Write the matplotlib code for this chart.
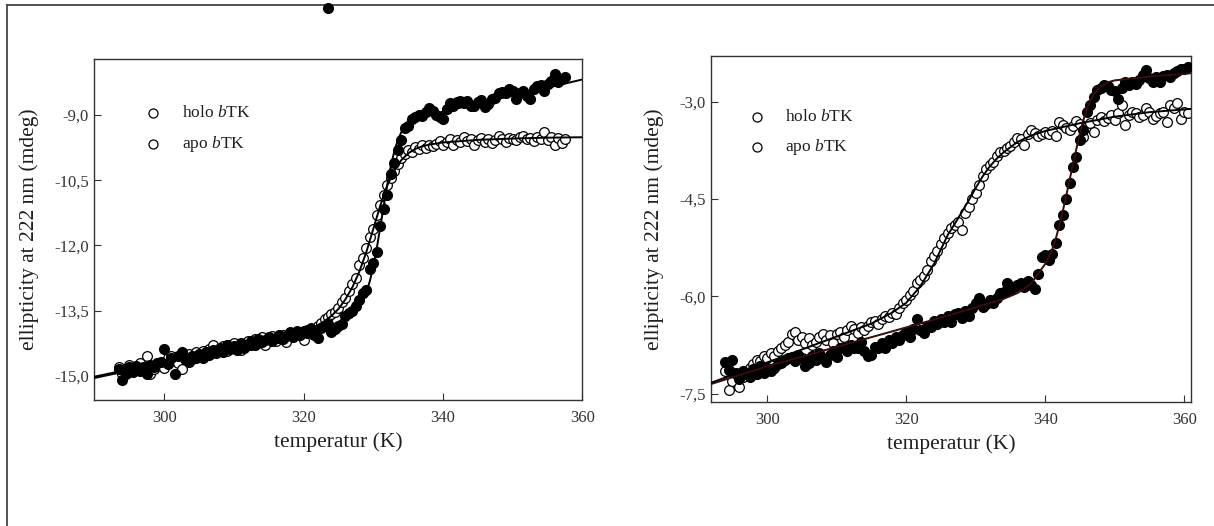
import matplotlib
matplotlib.use('Agg')
import matplotlib.pyplot as plt
from matplotlib.lines import Line2D
from matplotlib.ticker import FixedLocator, FuncFormatter

plt.rcParams['font.family'] = ['Liberation Serif', 'DejaVu Serif']
plt.rcParams['mathtext.fontset'] = 'custom'
plt.rcParams['mathtext.rm'] = 'Liberation Serif'
plt.rcParams['mathtext.it'] = 'Liberation Serif:italic'

# ---------------- data: left panel ----------------
temp_left = [293.5, 294.0, 294.5, 295.0, 295.5, 296.0, 296.5, 297.0, 297.5, 298.0,
             298.5, 299.0, 299.5, 300.0, 300.5, 301.0, 301.5, 302.0, 302.5, 303.0,
             303.5, 304.0, 304.5, 305.0, 305.5, 306.0, 306.5, 307.0, 307.5, 308.0,
             308.5, 309.0, 309.5, 310.0, 310.5, 311.0, 311.5, 312.0, 312.5, 313.0,
             313.5, 314.0, 314.5, 315.0, 315.5, 316.0, 316.5, 317.0, 317.5, 318.0,
             318.5, 319.0, 319.5, 320.0, 320.5, 321.0, 321.5, 322.0, 322.5, 323.0,
             323.5, 324.0, 324.5, 325.0, 325.5, 326.0, 326.5, 327.0, 327.5, 328.0,
             328.5, 329.0, 329.5, 330.0, 330.5, 331.0, 331.5, 332.0, 332.5, 333.0,
             333.5, 334.0, 334.5, 335.0, 335.5, 336.0, 336.5, 337.0, 337.5, 338.0,
             338.5, 339.0, 339.5, 340.0, 340.5, 341.0, 341.5, 342.0, 342.5, 343.0,
             343.5, 344.0, 344.5, 345.0, 345.5, 346.0, 346.5, 347.0, 347.5, 348.0,
             348.5, 349.0, 349.5, 350.0, 350.5, 351.0, 351.5, 352.0, 352.5, 353.0,
             353.5, 354.0, 354.5, 355.0, 355.5, 356.0, 356.5, 357.0, 357.5]

holo_left = [-14.85, -15.10, -14.95, -14.80, -14.92, -14.78, -14.88, -14.82, -14.95, -14.75,
             -14.80, -14.70, -14.68, -14.38, -14.72, -14.60, -14.95, -14.55, -14.45, -14.62,
             -14.68, -14.55, -14.60, -14.50, -14.58, -14.45, -14.52, -14.40, -14.48, -14.35,
             -14.45, -14.28, -14.38, -14.32, -14.40, -14.25, -14.35, -14.30, -14.20, -14.28,
             -14.15, -14.22, -14.18, -14.10, -14.20, -14.12, -14.05, -14.15, -14.08, -14.02,
             -14.10, -14.00, -14.05, -13.98, -14.02, -13.92, -14.05, -14.12, -13.90, -13.85,
             -13.80, -14.00, -13.92, -13.85, -13.80, -13.62, -13.55, -13.50, -13.40, -13.25,
             -13.10, -13.02, -12.55, -12.40, -12.15, -11.55, -11.15, -10.85, -10.35, -10.10,
             -9.80, -9.58, -9.30, -9.25, -9.10, -9.05, -9.00, -9.02, -8.92, -8.84,
             -8.90, -9.00, -9.05, -9.08, -8.85, -8.73, -8.78, -8.70, -8.68, -8.72,
             -8.67, -8.80, -8.78, -8.70, -8.66, -8.82, -8.75, -8.62, -8.60, -8.50,
             -8.46, -8.50, -8.40, -8.45, -8.62, -8.50, -8.44, -8.55, -8.63, -8.40,
             -8.33, -8.30, -8.45, -8.28, -8.22, -8.05, -8.25, -8.18, -8.12]

apo_left = [-14.80, -14.95, -14.88, -14.75, -14.90, -14.85, -14.70, -14.80, -14.55, -14.96,
            -14.85, -14.78, -14.72, -14.82, -14.60, -14.55, -14.66, -14.70, -14.85, -14.58,
            -14.50, -14.62, -14.45, -14.55, -14.42, -14.50, -14.38, -14.30, -14.45, -14.40,
            -14.32, -14.42, -14.30, -14.25, -14.35, -14.40, -14.28, -14.20, -14.30, -14.15,
            -14.25, -14.10, -14.30, -14.15, -14.08, -14.20, -14.12, -14.05, -14.22, -14.00,
            -14.08, -13.98, -14.05, -14.18, -13.95, -13.90, -13.98, -13.85, -13.78, -13.70,
            -13.64, -13.58, -13.52, -13.45, -13.30, -13.22, -13.05, -12.88, -12.75, -12.45,
            -12.30, -12.05, -11.80, -11.62, -11.30, -11.08, -10.85, -10.62, -10.45, -10.28,
            -10.12, -9.99, -9.90, -9.80, -9.85, -9.73, -9.78, -9.70, -9.75, -9.68,
            -9.72, -9.66, -9.60, -9.70, -9.62, -9.55, -9.68, -9.58, -9.62, -9.50,
            -9.60, -9.55, -9.68, -9.58, -9.52, -9.62, -9.55, -9.65, -9.58, -9.48,
            -9.55, -9.62, -9.52, -9.55, -9.58, -9.50, -9.47, -9.55, -9.52, -9.60,
            -9.50, -9.55, -9.40, -9.58, -9.50, -9.68, -9.52, -9.65, -9.55]

fit_holo_left_t = [290, 295, 300, 305, 310, 315, 320, 323, 325, 326, 327, 328,
                   328.5, 329, 329.5, 330, 330.5, 331, 331.5, 332, 332.5, 333, 333.5,
                   334, 334.5, 335, 336, 337, 340, 345, 350, 355, 360]
fit_holo_left_y = [-15.02, -14.85, -14.69, -14.52, -14.36, -14.19, -14.02, -13.92, -13.82,
                   -13.74, -13.62, -13.42, -13.28, -13.08, -12.82, -12.48, -12.06, -11.58,
                   -11.08, -10.60, -10.18, -9.84, -9.58, -9.40, -9.28, -9.19, -9.10, -9.04,
                   -8.92, -8.74, -8.55, -8.37, -8.18]

fit_apo_left_t = [290, 295, 300, 305, 310, 315, 318, 320, 322, 323, 324, 325, 326, 327,
                  328, 329, 330, 331, 332, 333, 334, 335, 336, 337, 338, 340, 345, 350,
                  355, 360]
fit_apo_left_y = [-15.05, -14.88, -14.70, -14.53, -14.35, -14.17, -14.05, -13.96, -13.84,
                  -13.74, -13.62, -13.46, -13.24, -12.96, -12.60, -12.15, -11.62, -11.08,
                  -10.62, -10.28, -10.04, -9.88, -9.78, -9.72, -9.68, -9.63, -9.57, -9.54,
                  -9.52, -9.51]

# ---------------- data: right panel ----------------
temp_right = [294.0, 294.5, 295.0, 295.5, 296.0, 296.5, 297.0, 297.5, 298.0, 298.5,
              299.0, 299.5, 300.0, 300.5, 301.0, 301.5, 302.0, 302.5, 303.0, 303.5,
              304.0, 304.5, 305.0, 305.5, 306.0, 306.5, 307.0, 307.5, 308.0, 308.5,
              309.0, 309.5, 310.0, 310.5, 311.0, 311.5, 312.0, 312.5, 313.0, 313.5,
              314.0, 314.5, 315.0, 315.5, 316.0, 316.5, 317.0, 317.5, 318.0, 318.5,
              319.0, 319.5, 320.0, 320.5, 321.0, 321.5, 322.0, 322.5, 323.0, 323.5,
              324.0, 324.5, 325.0, 325.5, 326.0, 326.5, 327.0, 327.5, 328.0, 328.5,
              329.0, 329.5, 330.0, 330.5, 331.0, 331.5, 332.0, 332.5, 333.0, 333.5,
              334.0, 334.5, 335.0, 335.5, 336.0, 336.5, 337.0, 337.5, 338.0, 338.5,
              339.0, 339.5, 340.0, 340.5, 341.0, 341.5, 342.0, 342.5, 343.0, 343.5,
              344.0, 344.5, 345.0, 345.5, 346.0, 346.5, 347.0, 347.5, 348.0, 348.5,
              349.0, 349.5, 350.0, 350.5, 351.0, 351.5, 352.0, 352.5, 353.0, 353.5,
              354.0, 354.5, 355.0, 355.5, 356.0, 356.5, 357.0, 357.5, 358.0, 358.5,
              359.0, 359.5, 360.0, 360.5]

holo_right = [-7.01, -7.14, -6.98, -7.19, -7.28, -7.15, -7.20, -7.24, -7.12, -7.20,
              -7.08, -7.19, -7.10, -7.15, -7.11, -7.05, -7.03, -6.98, -6.95, -6.93,
              -7.00, -6.90, -6.95, -7.08, -7.03, -6.92, -6.98, -6.88, -6.95, -7.01,
              -6.90, -6.85, -6.93, -6.80, -6.78, -6.85, -6.75, -6.80, -6.80, -6.70,
              -6.85, -6.92, -6.90, -6.78, -6.80, -6.72, -6.80, -6.68, -6.72, -6.62,
              -6.67, -6.60, -6.55, -6.62, -6.50, -6.35, -6.52, -6.57, -6.45, -6.47,
              -6.38, -6.42, -6.35, -6.40, -6.30, -6.39, -6.28, -6.26, -6.33, -6.22,
              -6.31, -6.18, -6.10, -6.03, -6.16, -6.12, -6.05, -6.11, -6.03, -5.95,
              -5.93, -5.80, -5.90, -5.85, -5.82, -5.80, -5.86, -5.77, -5.82, -5.88,
              -5.65, -5.40, -5.36, -5.44, -5.34, -5.18, -4.90, -4.75, -4.50, -4.26,
              -4.00, -3.85, -3.59, -3.44, -3.15, -3.05, -2.92, -2.82, -2.78, -2.74,
              -2.76, -2.82, -2.84, -2.95, -2.78, -2.69, -2.74, -2.70, -2.72, -2.66,
              -2.58, -2.51, -2.64, -2.70, -2.62, -2.69, -2.60, -2.59, -2.62, -2.56,
              -2.52, -2.49, -2.50, -2.46]

apo_right = [-7.15, -7.45, -7.30, -7.20, -7.40, -7.25, -7.18, -7.10, -7.05, -6.98,
             -7.00, -6.92, -6.95, -6.88, -6.92, -6.85, -6.80, -6.75, -6.70, -6.58,
             -6.55, -6.68, -6.62, -6.72, -6.65, -6.75, -6.70, -6.62, -6.58, -6.68,
             -6.60, -6.72, -6.58, -6.55, -6.62, -6.52, -6.45, -6.50, -6.56, -6.48,
             -6.52, -6.45, -6.40, -6.38, -6.42, -6.35, -6.30, -6.32, -6.25, -6.28,
             -6.18, -6.10, -6.05, -5.98, -5.92, -5.80, -5.75, -5.68, -5.60, -5.45,
             -5.38, -5.30, -5.20, -5.10, -5.02, -4.95, -4.90, -4.86, -4.98, -4.72,
             -4.62, -4.50, -4.40, -4.28, -4.15, -4.03, -3.97, -3.93, -3.84, -3.78,
             -3.76, -3.72, -3.68, -3.62, -3.56, -3.58, -3.66, -3.50, -3.44, -3.48,
             -3.52, -3.50, -3.46, -3.50, -3.45, -3.52, -3.31, -3.36, -3.40, -3.44,
             -3.38, -3.30, -3.35, -3.55, -3.39, -3.32, -3.46, -3.28, -3.23, -3.30,
             -3.25, -3.20, -3.28, -3.18, -3.05, -3.36, -3.20, -3.15, -3.18, -3.23,
             -3.20, -3.10, -3.16, -3.26, -3.22, -3.18, -3.15, -3.31, -3.05, -3.10,
             -3.02, -3.26, -3.15, -3.18]

fit_holo_right_t = [292, 300, 305, 310, 315, 320, 325, 330, 334, 336, 337, 338, 339, 340,
                    340.5, 341, 341.5, 342, 342.5, 343, 343.5, 344, 344.5, 345, 345.5,
                    346, 346.5, 347, 348, 349, 350, 355, 361]
fit_holo_right_y = [-7.35, -7.08, -6.93, -6.78, -6.63, -6.48, -6.33, -6.17, -6.04, -5.95,
                    -5.88, -5.80, -5.65, -5.50, -5.40, -5.28, -5.12, -4.92, -4.70, -4.46,
                    -4.21, -3.96, -3.72, -3.49, -3.28, -3.11, -2.98, -2.88, -2.76, -2.70,
                    -2.67, -2.61, -2.56]

fit_apo_right_t = [292, 300, 306, 310, 315, 318, 320, 322, 324, 326, 327, 328, 329, 330,
                   331, 332, 333, 334, 336, 338, 340, 345, 350, 355, 361]
fit_apo_right_y = [-7.33, -7.02, -6.78, -6.62, -6.42, -6.25, -6.10, -5.85, -5.50, -5.05,
                   -4.88, -4.70, -4.52, -4.33, -4.15, -4.00, -3.88, -3.78, -3.62, -3.52,
                   -3.45, -3.33, -3.23, -3.16, -3.11]

x_ticks = [300, 320, 340, 360]
y_ticks_left = [-15.0, -13.5, -12.0, -10.5, -9.0]
y_ticks_right = [-7.5, -6.0, -4.5, -3.0]
legend_labels = [r'holo $\mathit{b}$TK', r'apo $\mathit{b}$TK']

fig = plt.figure(figsize=(12.14, 5.26), dpi=100)
ax1 = fig.add_axes([0.0778, 0.2395, 0.402, 0.6483])
ax2 = fig.add_axes([0.5858, 0.2357, 0.3954, 0.6571])

comma = FuncFormatter(lambda v, p: f'{v:.1f}'.replace('.', ','))
ink = '#1e1e1e'
msize = 7


def draw_panel(ax, t, holo, apo, fits, xlim, ylim, yticks, leg_x, txt_x, leg_y):
    ax.plot(t, apo, 'o', ls='none', mfc='white', mec='black', mew=0.9, ms=msize, zorder=2)
    ax.plot(t, holo, 'o', ls='none', color='black', ms=msize, zorder=3)
    for ft, fy, col in fits:
        ax.plot(ft, fy, color=col, lw=1.4, zorder=4)
    ax.set_xlim(*xlim)
    ax.set_ylim(*ylim)
    ax.xaxis.set_major_locator(FixedLocator(x_ticks))
    ax.yaxis.set_major_locator(FixedLocator(yticks))
    ax.xaxis.set_major_formatter(FuncFormatter(lambda v, p: f'{v:.0f}'))
    ax.yaxis.set_major_formatter(comma)
    ax.tick_params(direction='in', length=5, width=0.8, labelsize=12,
                   color='#333333', labelcolor='#333333')
    ax.tick_params(axis='x', pad=7)
    ax.tick_params(axis='y', pad=4)
    for s in ax.spines.values():
        s.set_color('#333333')
        s.set_linewidth(1.0)
    ax.set_xlabel('temperatur (K)', fontsize=15.5, color=ink, labelpad=5)
    ax.set_ylabel('ellipticity at 222 nm (mdeg)', fontsize=15.5, color=ink, labelpad=11)
    # legend (both entries drawn with open circles, as in the source)
    for y, lab in zip(leg_y, legend_labels):
        ax.plot([leg_x], [y], 'o', mfc='white', mec='black', mew=0.9, ms=6.5,
                transform=ax.transAxes, clip_on=False)
        ax.text(txt_x, y, lab, transform=ax.transAxes, va='center', ha='left',
                fontsize=12.5, color=ink)


draw_panel(ax1, temp_left, holo_left, apo_left,
           [(fit_holo_left_t, fit_holo_left_y, 'black'),
            (fit_apo_left_t, fit_apo_left_y, 'black')],
           (290, 360), (-15.557, -7.71), y_ticks_left, 0.1205, 0.179, [0.841, 0.751])

draw_panel(ax2, temp_right, holo_right, apo_right,
           [(fit_holo_right_t, fit_holo_right_y, '#2a0808'),
            (fit_apo_right_t, fit_apo_right_y, 'black')],
           (291.94, 361.0), (-7.63, -2.30), y_ticks_right, 0.096, 0.154, [0.824, 0.739])
ax2.plot(fit_holo_right_t, fit_holo_right_y, color='#9a1a1a', lw=0.5, ls=':', zorder=5)

# partial frame around the figure and stray dot
fig.add_artist(Line2D([7 / 1214, 1.0], [1 - 5 / 526, 1 - 5 / 526],
                      transform=fig.transFigure, color='#444444', lw=1.3))
fig.add_artist(Line2D([7 / 1214, 7 / 1214], [0.0, 1 - 5 / 526],
                      transform=fig.transFigure, color='#444444', lw=1.3))
fig.add_artist(Line2D([328 / 1214], [1 - 8 / 526], marker='o', ms=msize, color='black',
                      ls='none', transform=fig.transFigure))

fig.savefig('out.png', dpi=100)
